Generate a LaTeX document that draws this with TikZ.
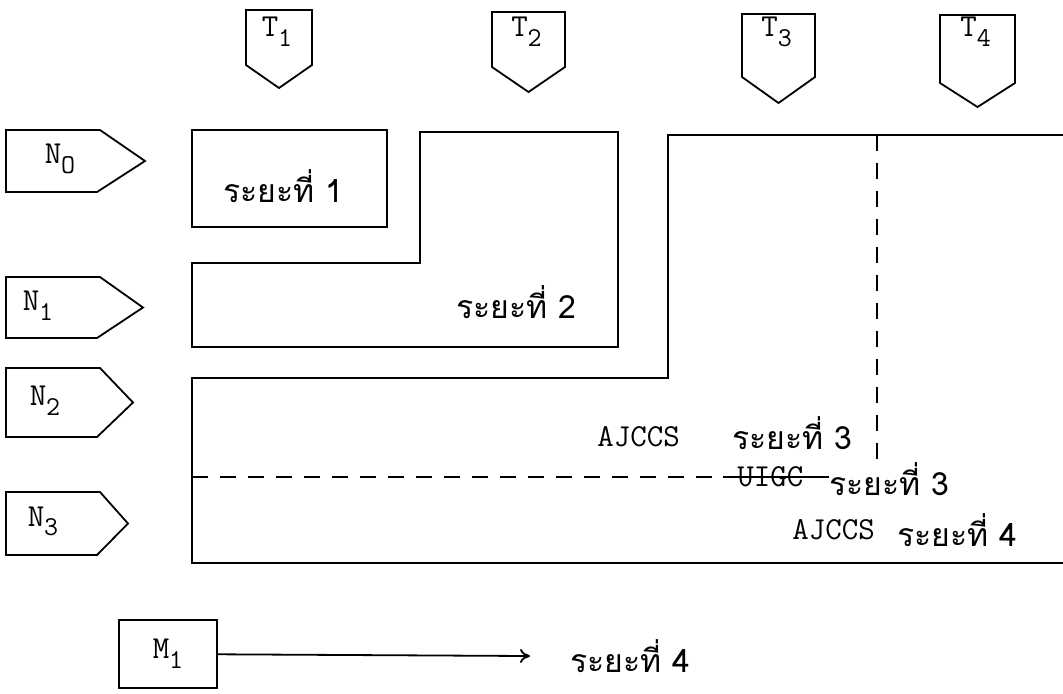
\documentclass[tikz,border=0pt]{standalone}
\usepackage{fontspec}
\newfontfamily\thai[Script=Thai]{Loma}
\usetikzlibrary{positioning,arrows.meta}
\newcommand{\subx}[1]{\raisebox{-0.7ex}{\scalebox{0.85}{#1}}}

\begin{document}
\begin{tikzpicture}[x=0.5pt,y=-0.5pt,
  edge/.style={draw,line width=0.9pt},
  lbl/.style={font=\fontsize{16}{18}\selectfont\ttfamily,inner sep=0pt},
  tlbl/.style={font=\fontsize{16}{18}\selectfont\thai,inner sep=0pt},
  dashline/.style={line width=0.9pt,dash pattern=on 8pt off 6pt}]
\useasboundingbox (0,0) rectangle (1063,693);

% time markers
\foreach \i/\l/\r/\t/\s/\p in {1/246/312/10/65/88, 2/492/565/12/67/92,
    3/742/815/14/77/103, 4/940/1015/15/83/107}{
  \draw[edge] (\l,\t) -- (\r,\t) -- (\r,\s) -- ({(\l+\r)/2},\p) -- (\l,\s) -- cycle;
  \node[lbl] (t\i) at ({(\l+\r)/2-2},32) {T\subx{\i}};
}

% levels
\foreach \i/\s/\t/\b/\p/\x in {0/O/130/192/145/60, 1/1/277/338/143/38,
    2/2/368/437/133/45, 3/3/492/555/128/43}{
  \draw[edge] (6,\t) -- (100,\t) -- (\p,{(\t+\b)/2}) -- (97,\b) -- (6,\b) -- cycle;
  \node[lbl] (n\i) at (\x,{(\t+\b)/2-2}) {N\subx{\s}};
}

% phases
\draw[edge] (192,130) rectangle (387,227);
\node[tlbl] (p1) at (283,186) {ระยะที่ 1};
\draw[edge] (192,263) -- (420,263) -- (420,132) -- (618,132) -- (618,347)
  -- (192,347) -- cycle;
\node[tlbl] (p2) at (516,302) {ระยะที่ 2};
\draw[edge] (1063,135) -- (668,135) -- (668,378) -- (192,378) -- (192,563)
  -- (1063,563);
\draw[dashline] (877,135) -- (877,470);

\node[lbl,anchor=west] (aj3) at (597,437) {AJCCS};
\node[tlbl,anchor=west] (p3a) at (732,433) {ระยะที่ 3};
\node[lbl,anchor=west] (ui) at (737,477) {UIGC};
\node[tlbl,anchor=west] (p3b) at (829,479) {ระยะที่ 3};
\draw[dashline] (192,477) -- (723,477);
\draw[edge] (723,477) -- (p3b.west |- 0,477);
\node[lbl,anchor=west] (aj4) at (792,530) {AJCCS};
\node[tlbl,anchor=west] (p4) at (897,530) {ระยะที่ 4};

% later
\node[edge,minimum width=49pt,minimum height=34pt,lbl] (m1) at (168,654) {M\subx{1}};
\node[tlbl,anchor=west] (p4m) at (570,656) {ระยะที่ 4};
\draw[edge,-{To[length=5pt,width=7pt]}] (m1) -- ([xshift=-20pt]p4m.west);
\end{tikzpicture}
\end{document}
